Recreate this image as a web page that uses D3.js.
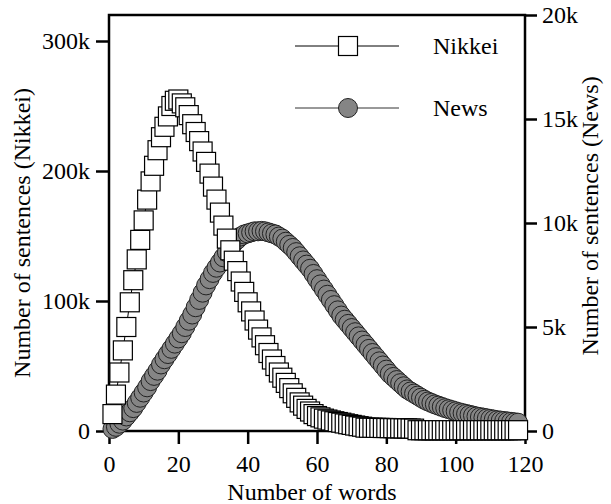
<!DOCTYPE html>
<html>
<head>
<meta charset="utf-8">
<script src="https://cdn.jsdelivr.net/npm/d3@7"></script>
<style>
  body { margin: 0; background: #fff; }
  svg { display: block; }
</style>
</head>
<body>
<svg id="chart" width="611" height="504" font-family="Liberation Serif"></svg>
<script>
// sentence-length distributions, one point per word count 1..118
const words = d3.range(1, 119)

// Nikkei, thousands of sentences (left axis)
const nikkeiK = [
  13, 28, 45, 62, 80, 99, 116, 132, 147, 162,
  178, 192, 204, 216, 226, 234, 242, 250, 254, 255,
  252, 249, 243, 236, 230, 223, 215, 207, 198, 188,
  178, 168, 158, 148, 139, 131, 123, 115, 107, 99,
  92, 85, 78, 72, 66, 60, 55, 50, 45, 41,
  37, 33, 29, 25.5, 22, 19.5, 17, 15, 13, 11.5,
  10.5, 9.5, 8.8, 8.1, 7.5, 6.9, 6.4, 5.8, 5.2, 4.7,
  4.2, 3.7, 3.3, 2.6, 2.5, 2.5, 2.4, 2.4, 2.3, 2.3,
  2.2, 2.2, 2.1, 2.1, 2, 2, 1.9, 1.8, 0.6, 0.6,
  0.6, 0.6, 0.6, 0.6, 0.6, 0.6, 0.6, 0.6, 0.6, 0.6,
  0.6, 0.6, 0.6, 0.6, 0.6, 0.6, 0.6, 0.6, 0.6, 0.6,
  0.6, 0.6, 0.6, 0.6, 0.6, 0.6, 0.6, 0.6
]

// News, thousands of sentences (right axis)
const newsK = [
  0.1, 0.2, 0.35, 0.5, 0.7, 0.9, 1.1, 1.35, 1.6, 1.85,
  2.1, 2.4, 2.65, 2.9, 3.2, 3.45, 3.7, 3.95, 4.2, 4.45,
  4.7, 5.0, 5.3, 5.6, 5.95, 6.3, 6.65, 7.0, 7.3, 7.6,
  7.85, 8.1, 8.35, 8.6, 8.85, 9.05, 9.2, 9.35, 9.45, 9.5,
  9.55, 9.6, 9.6, 9.62, 9.6, 9.55, 9.5, 9.45, 9.35, 9.25,
  9.1, 8.95, 8.8, 8.6, 8.4, 8.2, 8.0, 7.8, 7.55, 7.3,
  7.05, 6.8, 6.55, 6.3, 6.05, 5.8, 5.55, 5.35, 5.15, 4.95,
  4.75, 4.55, 4.35, 4.15, 3.95, 3.75, 3.55, 3.35, 3.15, 2.95,
  2.75, 2.6, 2.45, 2.3, 2.15, 2.0, 1.9, 1.8, 1.7, 1.6,
  1.5, 1.42, 1.35, 1.28, 1.22, 1.16, 1.1, 1.05, 1.0, 0.95,
  0.9, 0.86, 0.82, 0.78, 0.74, 0.7, 0.67, 0.64, 0.61, 0.58,
  0.55, 0.52, 0.5, 0.48, 0.46, 0.44, 0.42, 0.4
]

const xTicks = [0, 20, 40, 60, 80, 100, 120]
const leftTicks = [0, 100000, 200000, 300000]
const rightTicks = [0, 5000, 10000, 15000, 20000]
const legendNames = ["Nikkei", "News"]

const nikkei = words.map((w, i) => ({ w: w, v: nikkeiK[i] * 1000 }))
const news = words.map((w, i) => ({ w: w, v: newsK[i] * 1000 }))

const svg = d3.select("#chart")
const plotL = 109, plotR = 525, plotT = 15, plotB = 431
const serif = "Liberation Serif"
const fontSize = 24

const x = d3.scaleLinear().domain([0, 120]).range([plotL, plotR])
const yL = d3.scaleLinear().domain([0, 320000]).range([plotB, plotT])
const yR = d3.scaleLinear().domain([0, 20000]).range([plotB, plotT])

const kFmt = d => d === 0 ? "0" : (d / 1000) + "k"

function styleAxis(g) {
  g.attr("font-family", serif).attr("font-size", fontSize)
  g.select(".domain").remove()
  g.selectAll(".tick line").attr("stroke", "#000").attr("stroke-width", 2.5)
  g.selectAll(".tick text").attr("fill", "#000")
}

svg.append("g")
  .attr("transform", "translate(0," + plotB + ")")
  .call(d3.axisBottom(x).tickValues(xTicks).tickSize(13).tickPadding(11))
  .call(styleAxis)

svg.append("g")
  .attr("transform", "translate(" + plotL + ",0)")
  .call(d3.axisLeft(yL).tickValues(leftTicks).tickFormat(kFmt).tickSize(13).tickPadding(6))
  .call(styleAxis)

svg.append("g")
  .attr("transform", "translate(" + plotR + ",0)")
  .call(d3.axisRight(yR).tickValues(rightTicks).tickFormat(kFmt).tickSize(12).tickPadding(5))
  .call(styleAxis)

// frame
svg.append("rect")
  .attr("x", plotL).attr("y", plotT)
  .attr("width", plotR - plotL).attr("height", plotB - plotT)
  .attr("fill", "none").attr("stroke", "#000").attr("stroke-width", 2.5)

// axis titles
const titles = svg.append("g").attr("font-family", serif).attr("font-size", fontSize)

titles.append("text")
  .attr("x", 312).attr("y", 500)
  .attr("text-anchor", "middle")
  .text("Number of words")

titles.append("text")
  .attr("transform", "translate(30,233) rotate(-90)")
  .attr("text-anchor", "middle")
  .text("Number of sentences (Nikkei)")

titles.append("text")
  .attr("transform", "translate(598,216) rotate(-90)")
  .attr("text-anchor", "middle")
  .text("Number of sentences (News)")

// News series (drawn first, squares end up on top)
svg.append("path")
  .datum(news)
  .attr("fill", "none").attr("stroke", "#333").attr("stroke-width", 1)
  .attr("d", d3.line().x(d => x(d.w)).y(d => yR(d.v)))

svg.append("g").selectAll("circle")
  .data(news)
  .join("circle")
    .attr("cx", d => x(d.w))
    .attr("cy", d => yR(d.v))
    .attr("r", 9.5)
    .attr("fill", "#858585")
    .attr("stroke", "#222")
    .attr("stroke-width", 1)

// Nikkei series
svg.append("path")
  .datum(nikkei)
  .attr("fill", "none").attr("stroke", "#000").attr("stroke-width", 1)
  .attr("d", d3.line().x(d => x(d.w)).y(d => yL(d.v)))

svg.append("g").selectAll("rect")
  .data(nikkei)
  .join("rect")
    .attr("x", d => x(d.w) - 9.5)
    .attr("y", d => yL(d.v) - 9.5)
    .attr("width", 19).attr("height", 19)
    .attr("fill", "#fff")
    .attr("stroke", "#000")
    .attr("stroke-width", 1.2)

// legend
const legend = svg.append("g").attr("font-family", serif).attr("font-size", fontSize)
legendNames.forEach((name, i) => {
  const ly = 46 + i * 62
  legend.append("line")
    .attr("x1", 295).attr("x2", 399).attr("y1", ly).attr("y2", ly)
    .attr("stroke", i === 0 ? "#000" : "#333").attr("stroke-width", 1)
  if (i === 0) {
    legend.append("rect")
      .attr("x", 338.5).attr("y", ly - 9.5).attr("width", 19).attr("height", 19)
      .attr("fill", "#fff").attr("stroke", "#000").attr("stroke-width", 1.2)
  } else {
    legend.append("circle")
      .attr("cx", 348).attr("cy", ly).attr("r", 9.5)
      .attr("fill", "#858585").attr("stroke", "#222").attr("stroke-width", 1)
  }
  legend.append("text")
    .attr("x", 433).attr("y", ly + 8)
    .text(name)
})
</script>
</body>
</html>
